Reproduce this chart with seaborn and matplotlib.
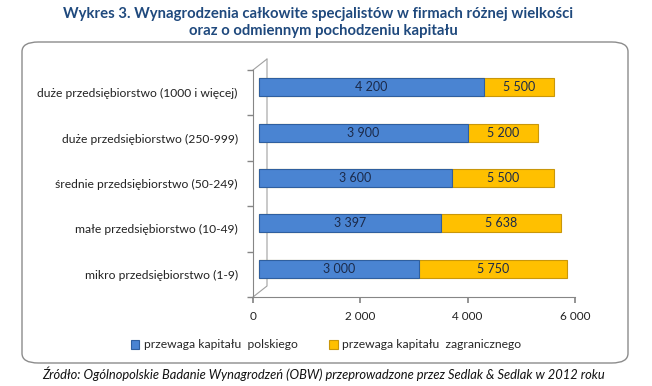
import matplotlib
matplotlib.use("Agg")
import matplotlib.pyplot as plt
import matplotlib.transforms as mtrans
from matplotlib.patches import FancyBboxPatch
import seaborn as sns
import pandas as pd

# dane z wykresu
kategorie = [
    "duże przedsiębiorstwo (1000 i więcej)",
    "duże przedsiębiorstwo (250-999)",
    "średnie przedsiębiorstwo (50-249)",
    "małe przedsiębiorstwo (10-49)",
    "mikro przedsiębiorstwo (1-9)",
]
kapital_polski = [4200, 3900, 3600, 3397, 3000]
kapital_zagraniczny = [5500, 5200, 5500, 5638, 5750]
os_x_ticks = [0, 2000, 4000, 6000]

seria_pl = "przewaga kapitału  polskiego"
seria_zagr = "przewaga kapitału  zagranicznego"

niebieski = "#4A84D2"
zolty = "#FFC000"
granat = "#1F497D"
szary = "#868686"

df = pd.DataFrame({"kat": kategorie, "pl": kapital_polski, "zagr": kapital_zagraniczny})

sns.set_theme(style="white")
plt.rcParams["font.family"] = ["Lato", "DejaVu Sans"]

fig = plt.figure(figsize=(6.52, 3.86), dpi=100)
ax = fig.add_axes([253 / 652, 1 - 297 / 386, 322 / 652, 227 / 386])

# ramka wykresu
ramka = FancyBboxPatch((22 / 652, 1 - 363 / 386), 606 / 652, 321 / 386,
                       boxstyle="round,pad=0,rounding_size=0.025",
                       transform=fig.transFigure, facecolor="white",
                       edgecolor="#8C8C8C", linewidth=1.0, zorder=-10)
fig.patches.append(ramka)

sns.barplot(data=df, x="zagr", y="kat", color=zolty, width=0.4, ax=ax,
            edgecolor="#C9970A", linewidth=0.8, saturation=1, label=seria_zagr)
sns.barplot(data=df, x="pl", y="kat", color=niebieski, width=0.4, ax=ax,
            edgecolor="#2F5F9F", linewidth=0.8, saturation=1, label=seria_pl)

def fmt(v):
    return f"{v:,}".replace(",", " ")

# przesuniecie "glebi" 3D - slupki stoja w srodku sciany
glebia = mtrans.ScaledTranslation(5.5 / 100, 5.5 / 100, fig.dpi_scale_trans)
for patch in ax.patches:
    patch.set_transform(patch.get_data_transform() + glebia)

for i, (p, z) in enumerate(zip(kapital_polski, kapital_zagraniczny)):
    ax.text(p / 2, i, fmt(p), ha="center", va="center", fontsize=9, color="#1B2A4A",
            transform=ax.transData + glebia)
    ax.text((p + z) / 2, i, fmt(z), ha="center", va="center", fontsize=9, color="#1B2A4A",
            transform=ax.transData + glebia)

# sciana 3D po lewej (za slupkami)
dx, dy = 14 / 322, 11 / 227
ax.plot([0, dx, dx], [0, dy, 1 + dy], transform=ax.transAxes, color="#A0A0A0",
        lw=0.8, clip_on=False, zorder=0.5)
ax.plot([0, dx], [1, 1 + dy], transform=ax.transAxes, color="#A0A0A0",
        lw=0.8, clip_on=False, zorder=0.5)

ax.set_xlim(0, 6000)
ax.set_ylim(len(kategorie) - 0.5, -0.5)
ax.set_xticks(os_x_ticks)
ax.set_xticklabels([fmt(v) for v in os_x_ticks], fontsize=8.5, color="#222222")
ax.set_yticks(range(len(kategorie)))
ax.set_yticklabels(kategorie, fontsize=8.7, color="#222222")
ax.set_yticks([i - 0.5 for i in range(len(kategorie) + 1)], minor=True)
ax.tick_params(axis="y", which="major", length=0, pad=11)
ax.tick_params(axis="y", which="minor", length=4, color=szary, direction="out", left=True)
ax.tick_params(axis="x", length=4, color=szary, direction="out", bottom=True, pad=6)
ax.set_xlabel("")
ax.set_ylabel("")
for s in ["top", "right"]:
    ax.spines[s].set_visible(False)
for s in ["left", "bottom"]:
    ax.spines[s].set_color(szary)
    ax.spines[s].set_linewidth(0.8)

# legenda
uchwyty, etykiety = ax.get_legend_handles_labels()
porzadek = [etykiety.index(seria_pl), etykiety.index(seria_zagr)]
fig.legend([uchwyty[i] for i in porzadek], [etykiety[i] for i in porzadek],
           loc="center", bbox_to_anchor=(326 / 652, 1 - 345 / 386), ncol=2, frameon=False,
           fontsize=8.7, handlelength=0.7, handleheight=0.7, columnspacing=2.6,
           handletextpad=0.4)
if ax.legend_:
    ax.legend_.remove()

fig.text(318 / 652, 1 - 14 / 386, "Wykres 3. Wynagrodzenia całkowite specjalistów w firmach różnej wielkości",
         ha="center", va="center", fontsize=10.7, fontweight="bold", color=granat)
fig.text(323 / 652, 1 - 31 / 386, "oraz o odmiennym pochodzeniu kapitału",
         ha="center", va="center", fontsize=10.7, fontweight="bold", color=granat)

fig.text(42 / 652, 1 - 374 / 386,
         "Źródło: Ogólnopolskie Badanie Wynagrodzeń (OBW) przeprowadzone przez Sedlak & Sedlak w 2012 roku",
         ha="left", va="center", fontsize=9.25, style="italic", color="#111111")

fig.savefig("out.png", dpi=100)
